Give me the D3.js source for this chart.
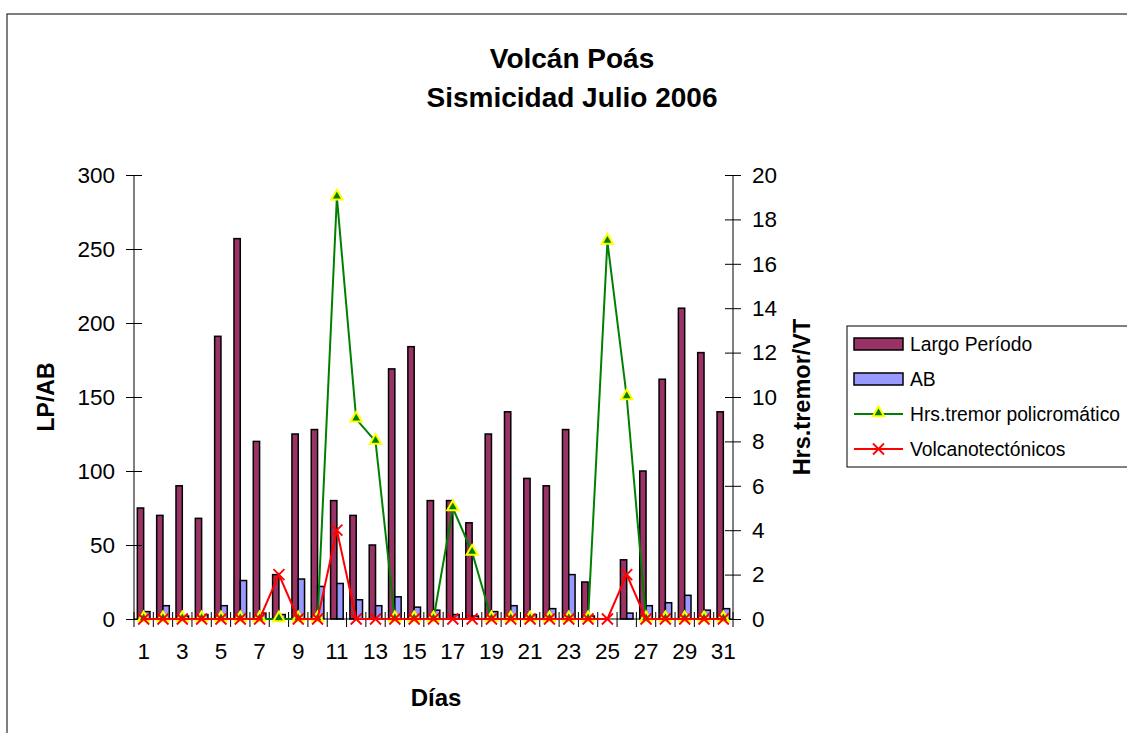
<!DOCTYPE html>
<html>
<head>
<meta charset="utf-8">
<script src="https://cdn.jsdelivr.net/npm/d3@7"></script>
<style>
  html, body { margin: 0; padding: 0; background: #fff; }
  svg { display: block; font-family: "Liberation Sans", Arial, sans-serif; }
</style>
</head>
<body>
<svg id="chart" width="1127" height="733"></svg>
<script>
// ---- Data ----
const days = [1,2,3,4,5,6,7,8,9,10,11,12,13,14,15,16,17,18,19,20,21,22,23,24,25,26,27,28,29,30,31];
const largoPeriodo = [75,70,90,68,191,257,120,30,125,128,80,70,50,169,184,80,80,65,125,140,95,90,128,25,0,40,100,162,210,180,140];
const ab = [5,9,2,3,9,26,4,3,27,22,24,13,9,15,8,6,3,2,5,9,3,7,30,2,0,4,9,11,16,6,7];
const tremor = [0,0,0,0,0,0,0,0,0,0,19,9,8,0,0,0,5,3,0,0,0,0,0,0,17,10,0,0,0,0,0];
const vt = [0,0,0,0,0,0,0,2,0,0,4,0,0,0,0,0,0,0,0,0,0,0,0,0,0,2,0,0,0,0,0];
const leftTicks = [0,50,100,150,200,250,300];
const rightTicks = [0,2,4,6,8,10,12,14,16,18,20];
const xTickLabels = [1,3,5,7,9,11,13,15,17,19,21,23,25,27,29,31];
const titleLines = ["Volcán Poás", "Sismicidad Julio 2006"];
const seriesNames = ["Largo Período", "AB", "Hrs.tremor policromático", "Volcanotectónicos"];

const colors = { lp: "#993366", ab: "#9999FF", tremor: "#008000", tremorStroke: "#FFFF00", vt: "#FF0000" };

const svg = d3.select("#chart");
const plot = { left: 134, right: 733, top: 175, bottom: 619 };
const tickFont = 22.5;

// outer chart border
svg.append("rect").attr("x", 7).attr("y", 14).attr("width", 1300).attr("height", 900)
  .attr("fill", "#fff").attr("stroke", "#000").attr("stroke-width", 1);

// title
svg.append("g").selectAll("text").data(titleLines).join("text")
  .attr("x", 572).attr("y", (d, i) => 68 + i * 39)
  .attr("text-anchor", "middle").attr("font-size", 28).attr("font-weight", "bold")
  .text(d => d);

// scales
const x = d3.scaleBand().domain(days).range([plot.left, plot.right]).paddingInner(0).paddingOuter(0);
const xSub = d3.scaleBand().domain(["lp", "ab"]).range([0, x.bandwidth()]).paddingInner(0).paddingOuter(0.53);
const yL = d3.scaleLinear().domain([0, 300]).range([plot.bottom, plot.top]);
const yR = d3.scaleLinear().domain([0, 20]).range([plot.bottom, plot.top]);

// bars
const barG = svg.append("g");
barG.selectAll("rect.lp").data(days.map((d, i) => ({ d, v: largoPeriodo[i] })).filter(o => o.v > 0)).join("rect")
  .attr("x", o => x(o.d) + xSub("lp")).attr("width", xSub.bandwidth())
  .attr("y", o => yL(o.v)).attr("height", o => yL(0) - yL(o.v))
  .attr("fill", colors.lp).attr("stroke", "#000").attr("stroke-width", 1.5);
barG.selectAll("rect.ab").data(days.map((d, i) => ({ d, v: ab[i] })).filter(o => o.v > 0)).join("rect")
  .attr("x", o => x(o.d) + xSub("ab")).attr("width", xSub.bandwidth())
  .attr("y", o => yL(o.v)).attr("height", o => yL(0) - yL(o.v))
  .attr("fill", colors.ab).attr("stroke", "#000").attr("stroke-width", 1.5);

// left axis
const axL = svg.append("g").attr("transform", `translate(${plot.left},0)`)
  .call(d3.axisLeft(yL).tickValues(leftTicks).tickSize(8).tickPadding(11));
axL.selectAll(".tick line").attr("x1", 8);
axL.selectAll("text").attr("font-size", tickFont).attr("font-family", "Liberation Sans, Arial, sans-serif").attr("fill", "#000");
axL.select(".domain").attr("d", `M0,${plot.top}V${plot.bottom}`);

// right axis
const axR = svg.append("g").attr("transform", `translate(${plot.right},0)`)
  .call(d3.axisRight(yR).tickValues(rightTicks).tickSize(8).tickPadding(11));
axR.selectAll(".tick line").attr("x1", -8);
axR.selectAll("text").attr("font-size", tickFont).attr("font-family", "Liberation Sans, Arial, sans-serif").attr("fill", "#000");
axR.select(".domain").attr("d", `M0,${plot.top}V${plot.bottom}`);

// bottom axis
const axB = svg.append("g").attr("transform", `translate(0,${plot.bottom})`)
  .call(d3.axisBottom(x).tickValues(xTickLabels).tickSize(0).tickPadding(24));
axB.selectAll("text").attr("font-size", tickFont).attr("font-family", "Liberation Sans, Arial, sans-serif").attr("fill", "#000");
axB.select(".domain").attr("d", `M${plot.left},0H${plot.right}`);
const boundaries = days.map(d => x(d)).concat([x(days[days.length - 1]) + x.bandwidth()]);
axB.append("g").selectAll("line").data(boundaries).join("line")
  .attr("x1", d => d).attr("x2", d => d).attr("y1", -7).attr("y2", 8)
  .attr("stroke", "#000").attr("stroke-width", 1);

// tremor line
const cx = d => x(d) + x.bandwidth() / 2;
const tremorPts = days.map((d, i) => [cx(d), yR(tremor[i])]);
svg.append("path").attr("d", d3.line()(tremorPts)).attr("fill", "none")
  .attr("stroke", colors.tremor).attr("stroke-width", 2);
const tri = d3.symbol(d3.symbolTriangle).size(55);
svg.append("g").selectAll("path").data(tremorPts).join("path")
  .attr("transform", p => `translate(${p[0]},${p[1] - 1})`).attr("d", tri)
  .attr("fill", colors.tremor).attr("stroke", colors.tremorStroke).attr("stroke-width", 2);

// VT line
const vtPts = days.map((d, i) => [cx(d), yR(vt[i])]);
svg.append("path").attr("d", d3.line()(vtPts)).attr("fill", "none")
  .attr("stroke", colors.vt).attr("stroke-width", 2);
const xMark = (s) => `M${-s},${-s}L${s},${s}M${-s},${s}L${s},${-s}`;
svg.append("g").selectAll("path").data(vtPts).join("path")
  .attr("transform", p => `translate(${p[0]},${p[1]})`).attr("d", xMark(5.5))
  .attr("fill", "none").attr("stroke", colors.vt).attr("stroke-width", 1.8);

// axis titles
const midY = (plot.top + plot.bottom) / 2;
svg.append("text").attr("transform", `translate(54,${midY}) rotate(-90)`)
  .attr("text-anchor", "middle").attr("font-size", 23).attr("font-weight", "bold").text("LP/AB");
svg.append("text").attr("transform", `translate(810,${midY}) rotate(-90)`)
  .attr("text-anchor", "middle").attr("font-size", 23.5).attr("font-weight", "bold").text("Hrs.tremor/VT");
svg.append("text").attr("x", 436).attr("y", 706)
  .attr("text-anchor", "middle").attr("font-size", 24).attr("font-weight", "bold").text("Días");

// legend
const lg = svg.append("g");
lg.append("rect").attr("x", 847).attr("y", 326).attr("width", 400).attr("height", 141)
  .attr("fill", "#fff").attr("stroke", "#000").attr("stroke-width", 1);
const ly = i => 344 + i * 35;
lg.append("rect").attr("x", 854).attr("y", ly(0) - 6).attr("width", 49).attr("height", 12)
  .attr("fill", colors.lp).attr("stroke", "#000").attr("stroke-width", 1.5);
lg.append("rect").attr("x", 854).attr("y", ly(1) - 6).attr("width", 49).attr("height", 12)
  .attr("fill", colors.ab).attr("stroke", "#000").attr("stroke-width", 1.5);
lg.append("line").attr("x1", 854).attr("x2", 903).attr("y1", ly(2)).attr("y2", ly(2))
  .attr("stroke", colors.tremor).attr("stroke-width", 2);
lg.append("path").attr("transform", `translate(878.5,${ly(2) - 1})`).attr("d", tri)
  .attr("fill", colors.tremor).attr("stroke", colors.tremorStroke).attr("stroke-width", 2);
lg.append("line").attr("x1", 854).attr("x2", 903).attr("y1", ly(3)).attr("y2", ly(3))
  .attr("stroke", colors.vt).attr("stroke-width", 2);
lg.append("path").attr("transform", `translate(878.5,${ly(3)})`).attr("d", xMark(5.5))
  .attr("fill", "none").attr("stroke", colors.vt).attr("stroke-width", 1.8);
lg.selectAll("text").data(seriesNames).join("text")
  .attr("x", 910).attr("y", (d, i) => ly(i)).attr("dy", "0.35em")
  .attr("font-size", 19.3).text(d => d);
</script>
</body>
</html>
